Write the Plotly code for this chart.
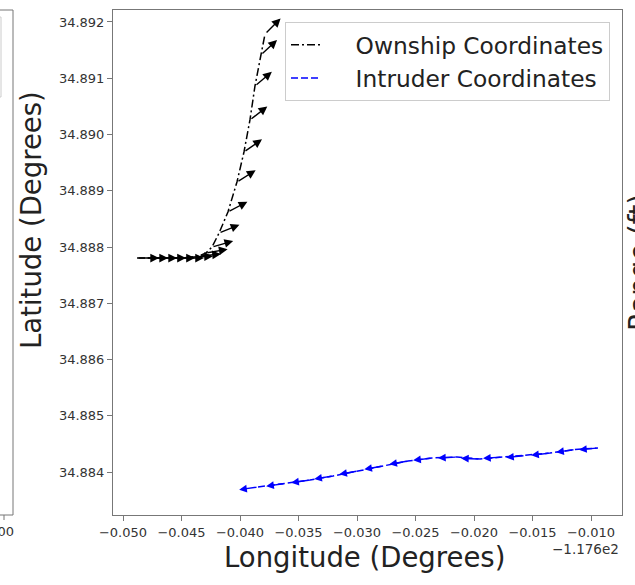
import math
import plotly.graph_objects as go

# Longitudes are stored as offsets from this value (matplotlib-style offset text)
LON_OFFSET = -117.6

# Ownship track (longitude offset, latitude) and heading (deg, compass)
own_lon_off = [-0.04880, -0.04803, -0.04726, -0.04650, -0.04573, -0.04496, -0.04419,
               -0.04350, -0.04291, -0.04239, -0.04179, -0.04103, -0.04026, -0.03966,
               -0.03915, -0.03872, -0.03821, -0.03786]
own_lat = [34.887804, 34.887804, 34.887804, 34.887804, 34.887804, 34.887804, 34.887822,
           34.887840, 34.887893, 34.888000, 34.888249, 34.888622, 34.889156, 34.889689,
           34.890258, 34.890862, 34.891413, 34.891787]
own_heading = [90, 90, 90, 90, 90, 90, 88, 85, 80, 74, 68, 62, 58, 55, 52, 50, 47, 45]

# Intruder track and heading
int_lon_off = [-0.038462, -0.036154, -0.034017, -0.032051, -0.029915, -0.027778,
               -0.025641, -0.023590, -0.021453, -0.019487, -0.017607, -0.015641,
               -0.013504, -0.011368, -0.009402]
int_lat = [34.883733, 34.883796, 34.883858, 34.883929, 34.884018, 34.884107,
           34.884196, 34.884249, 34.884267, 34.884231, 34.884267, 34.884293,
           34.884338, 34.884400, 34.884427]
int_heading = [262, 262, 262, 261, 260, 260, 260, 263, 267, 272, 266, 264, 263, 262, 265]

x_tick_offsets = [-0.050, -0.045, -0.040, -0.035, -0.030, -0.025, -0.020, -0.015, -0.010]
x_tick_labels = ["\u22120.050", "\u22120.045", "\u22120.040", "\u22120.035", "\u22120.030",
                 "\u22120.025", "\u22120.020", "\u22120.015", "\u22120.010"]
y_ticks = [34.884, 34.885, 34.886, 34.887, 34.888, 34.889, 34.890, 34.891, 34.892]
y_tick_labels = ["34.884", "34.885", "34.886", "34.887", "34.888", "34.889", "34.890",
                 "34.891", "34.892"]

W, H = 635, 585
ML, MR, MT, MB = 113, 13, 10, 70
X_RANGE = [LON_OFFSET - 0.050855, LON_OFFSET - 0.007350]
Y_RANGE = [34.883236, 34.892213]
FONT = "DejaVu Sans"
LEGEND_PAD = "\u00a0" * 4  # gap between legend line sample and label

own_lon = [LON_OFFSET + v for v in own_lon_off]
int_lon = [LON_OFFSET + v for v in int_lon_off]

fig = go.Figure()
fig.add_trace(go.Scatter(x=own_lon, y=own_lat, mode="lines",
                         name=LEGEND_PAD + "Ownship Coordinates",
                         line=dict(color="black", width=1.5, dash="8px,3px,2px,3px")))
fig.add_trace(go.Scatter(x=int_lon, y=int_lat, mode="lines",
                         name=LEGEND_PAD + "Intruder Coordinates",
                         line=dict(color="#0000ff", width=1.5, dash="7px,3px")))

# Quiver-style heading arrows (length in px, head scale)
px_per_x = (W - ML - MR) / (X_RANGE[1] - X_RANGE[0])
px_per_y = (H - MT - MB) / (Y_RANGE[1] - Y_RANGE[0])
annotations = []
for lons, lats, hdgs, col, length, hsize in [
        (own_lon, own_lat, own_heading, "black", 22, 1.25),
        (int_lon, int_lat, int_heading, "#0000ff", 19, 1.1)]:
    for lo, la, h in zip(lons, lats, hdgs):
        r = math.radians(h)
        hx = lo + length * math.sin(r) / px_per_x
        hy = la + length * math.cos(r) / px_per_y
        annotations.append(dict(x=hx, y=hy, ax=lo, ay=la, xref="x", yref="y",
                                axref="x", ayref="y", text="", showarrow=True,
                                arrowhead=2, arrowsize=hsize, arrowwidth=1.4,
                                arrowcolor=col, standoff=0, startstandoff=0))

def px_x(p):
    return (p - ML) / (W - ML - MR)

def px_y(p):
    return (H - MB - p) / (H - MT - MB)

annotations += [
    dict(text="Longitude (Degrees)", x=px_x(364), y=px_y(557), xref="paper", yref="paper",
         showarrow=False, font=dict(family=FONT, size=27.5, color="#222"),
         xanchor="center", yanchor="middle"),
    dict(text="Latitude (Degrees)", x=px_x(31), y=px_y(220), xref="paper", yref="paper",
         showarrow=False, textangle=-90, font=dict(family=FONT, size=27.5, color="#222"),
         xanchor="center", yanchor="middle"),
    dict(text="\u22121.176e2", x=px_x(621), y=px_y(549), xref="paper", yref="paper",
         showarrow=False, font=dict(family=FONT, size=13.5, color="#333"),
         xanchor="right", yanchor="middle"),
    # neighbouring panels
    dict(text="1000", x=px_x(-3), y=px_y(531), xref="paper", yref="paper",
         showarrow=False, font=dict(family=FONT, size=13, color="#333"),
         xanchor="center", yanchor="middle"),
    dict(text="Range (ft)", x=px_x(639), y=px_y(263), xref="paper", yref="paper",
         showarrow=False, textangle=-90, font=dict(family=FONT, size=27.5, color="#222"),
         xanchor="center", yanchor="middle"),
]

shapes = [
    dict(type="rect", xref="paper", yref="paper", x0=px_x(-20), x1=px_x(13),
         y0=px_y(515), y1=px_y(10), line=dict(color="#777", width=1)),
    dict(type="line", xref="paper", yref="paper", x0=px_x(4), x1=px_x(4),
         y0=px_y(515), y1=px_y(520), line=dict(color="#777", width=1)),
    dict(type="rect", xref="paper", yref="paper", x0=px_x(-60), x1=px_x(1),
         y0=px_y(97), y1=px_y(17), line=dict(color="#ccc", width=1)),
]

axis_common = dict(showgrid=False, zeroline=False, showline=True, mirror=True,
                   linecolor="#777", linewidth=1, ticks="outside", ticklen=5,
                   tickcolor="#777", tickfont=dict(family=FONT, size=13, color="#333"))

fig.update_layout(
    width=W, height=H,
    margin=dict(l=ML, r=MR, t=MT, b=MB),
    plot_bgcolor="white", paper_bgcolor="white",
    xaxis=dict(range=X_RANGE, tickvals=[LON_OFFSET + v for v in x_tick_offsets],
               ticktext=x_tick_labels, **axis_common),
    yaxis=dict(range=Y_RANGE, tickvals=y_ticks, ticktext=y_tick_labels, **axis_common),
    legend=dict(x=px_x(610), y=px_y(22), xanchor="right", yanchor="top",
                bgcolor="rgba(255,255,255,0.85)", bordercolor="#ccc", borderwidth=1,
                font=dict(family=FONT, size=23.3, color="#222"), tracegroupgap=0),
    annotations=annotations,
    shapes=shapes,
    showlegend=True,
)

fig.write_html("out.html")
